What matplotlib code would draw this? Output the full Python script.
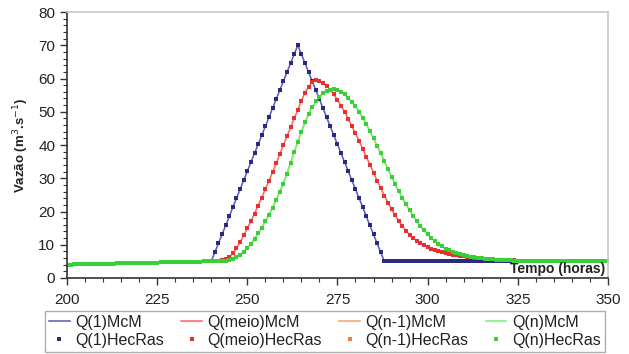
# Hidrogramas: McM x HecRas (Q em m3/s, passo horário)
import numpy as np
import matplotlib.pyplot as plt
from matplotlib.ticker import MultipleLocator

plt.rcParams['font.family'] = ['Liberation Sans', 'DejaVu Sans']

# vazão de base antes da onda (t = 200 ... 240 h)
base_ini = [4.0, 4.0,
            4.1, 4.1, 4.1, 4.1, 4.2, 4.2, 4.2, 4.2,
            4.3, 4.3, 4.3, 4.3, 4.4, 4.4, 4.4, 4.4,
            4.5, 4.5, 4.5, 4.5, 4.6, 4.6, 4.6, 4.6,
            4.7, 4.7, 4.7, 4.7, 4.8, 4.8, 4.8, 4.8,
            4.9, 4.9, 4.9, 4.9, 5.0, 5.0, 5.0]

# t = 241 ... 350 h
q1_onda = [7.7, 10.4, 13.1, 15.8, 18.5, 21.3, 24.0, 26.7, 29.4, 32.1,
           34.8, 37.5, 40.2, 42.9, 45.6, 48.3, 51.0, 53.8, 56.5, 59.2,
           61.9, 64.6, 67.3, 70.0, 67.3, 64.6, 61.9, 59.2, 56.5, 53.8,
           51.0, 48.3, 45.6, 42.9, 40.2, 37.5, 34.8, 32.1, 29.4, 26.7,
           24.0, 21.3, 18.5, 15.8, 13.1, 10.4, 7.7, 5.0, 5.0, 5.0,
           5.0, 5.0, 5.0, 5.0, 5.0, 5.0, 5.0, 5.0, 5.0, 5.0,
           5.0, 5.0, 5.0, 5.0, 5.0, 5.0, 5.0, 5.0, 5.0, 5.0,
           5.0, 5.0, 5.0, 5.0, 5.0, 5.0, 5.0, 5.0, 5.0, 5.0,
           5.0, 5.0, 5.0, 5.0, 5.0, 5.0, 5.0, 5.0, 5.0, 5.0,
           5.0, 5.0, 5.0, 5.0, 5.0, 5.0, 5.0, 5.0, 5.0, 5.0,
           5.0, 5.0, 5.0, 5.0, 5.0, 5.0, 5.0, 5.0, 5.0, 5.0]

qmeio_onda = [5.0, 5.1, 5.3, 5.7, 6.3, 7.4, 8.9, 10.8, 12.8, 14.9,
              17.1, 19.4, 21.8, 24.2, 26.7, 29.2, 31.8, 34.5, 37.2, 39.9,
              42.6, 45.3, 48.0, 50.6, 53.3, 55.7, 57.6, 58.9, 59.5, 59.3,
              58.7, 57.8, 56.6, 55.2, 53.6, 51.8, 49.9, 47.8, 45.7, 43.5,
              41.2, 38.9, 36.5, 34.1, 31.7, 29.3, 27.0, 24.8, 22.7, 20.7,
              18.8, 17.1, 15.6, 14.2, 13.0, 12.0, 11.1, 10.4, 9.8, 9.3,
              8.8, 8.4, 8.0, 7.7, 7.4, 7.2, 7.0, 6.8, 6.6, 6.5,
              6.3, 6.2, 6.1, 6.0, 5.9, 5.8, 5.7, 5.6, 5.5, 5.5,
              5.4, 5.4, 5.3, 5.3, 5.2, 5.2, 5.2, 5.1, 5.1, 5.1,
              5.0, 5.0, 5.0, 5.0, 5.0, 5.0, 5.0, 5.0, 5.0, 5.0,
              5.0, 5.0, 5.0, 5.0, 5.0, 5.0, 5.0, 5.0, 5.0, 5.0]

qn_onda = [5.0, 5.0, 5.1, 5.2, 5.4, 5.8, 6.3, 7.0, 7.9, 9.0,
           10.3, 11.8, 13.4, 15.1, 17.0, 19.0, 21.2, 23.5, 25.9, 28.4,
           31.4, 34.6, 37.8, 41.0, 44.0, 46.8, 49.3, 51.4, 53.1, 54.5,
           55.5, 56.2, 56.6, 56.7, 56.5, 56.0, 55.2, 54.2, 53.0, 51.6,
           50.0, 48.2, 46.3, 44.2, 42.0, 39.8, 37.5, 35.1, 32.7, 30.4,
           28.2, 26.1, 24.1, 22.2, 20.4, 18.7, 17.1, 15.6, 14.3, 13.1,
           12.0, 11.1, 10.2, 9.5, 8.8, 8.3, 7.8, 7.4, 7.1, 6.8,
           6.6, 6.4, 6.2, 6.0, 5.9, 5.8, 5.7, 5.6, 5.5, 5.4,
           5.4, 5.3, 5.3, 5.2, 5.2, 5.2, 5.1, 5.1, 5.1, 5.1,
           5.0, 5.0, 5.0, 5.0, 5.0, 5.0, 5.0, 5.0, 5.0, 5.0,
           5.0, 5.0, 5.0, 5.0, 5.0, 5.0, 5.0, 5.0, 5.0, 5.0]

q1 = base_ini + q1_onda
qmeio = base_ini + qmeio_onda
qn = base_ini + qn_onda
qn1 = qn  # Q(n-1) praticamente coincide com Q(n) nesta escala

tempo = np.arange(200, 200 + len(q1))

series = [
    ('Q(1)', q1, '#5a5ab8', '#2a2a80'),
    ('Q(meio)', qmeio, '#ff6060', '#e83030'),
    ('Q(n-1)', qn1, '#f5a070', '#f08040'),
    ('Q(n)', qn, '#70f070', '#38d038'),
]

fig = plt.figure(figsize=(6.29, 3.54), dpi=100)
ax = fig.add_axes([0.1065, 0.2147, 0.86, 0.7513])

handles = []
for nome, q, cor_linha, cor_marc in series:
    h1, = ax.plot(tempo, q, color=cor_linha, lw=1.1, label=nome + 'McM')
    h2, = ax.plot(tempo, q, ls='none', marker='s', ms=2.4, mew=0,
                  color=cor_marc, label=nome + 'HecRas')
    handles += [h1, h2]

ax.set_xlim(200, 350)
ax.set_ylim(0, 80)
ax.xaxis.set_major_locator(MultipleLocator(25))
ax.xaxis.set_minor_locator(MultipleLocator(5))
ax.yaxis.set_major_locator(MultipleLocator(10))
ax.yaxis.set_minor_locator(MultipleLocator(2))
ax.tick_params(which='major', length=5, width=1, color='#333333',
               labelsize=11, labelcolor='#222222')
ax.tick_params(which='minor', length=3, width=0.8, color='#333333')
ax.tick_params(axis='x', pad=6)

for lado in ['top', 'right']:
    ax.spines[lado].set_color('#c8c8c8')
    ax.spines[lado].set_linewidth(1.2)
for lado in ['left', 'bottom']:
    ax.spines[lado].set_color('#333333')
    ax.spines[lado].set_linewidth(1.2)

ax.set_ylabel(r'Vazão (m$^3$.s$^{-1}$)', fontsize=9.5, fontweight='bold',
              color='#222222', labelpad=5)
ax.text(0.995, 0.008, 'Tempo (horas)', transform=ax.transAxes, ha='right',
        va='bottom', fontsize=10, fontweight='bold', color='#222222')

leg = fig.legend(handles=handles, loc='lower left', ncol=4, mode='expand',
                 bbox_to_anchor=(0.0715, 0.006, 0.89, 0.121),
                 fontsize=11.5, frameon=True, fancybox=False,
                 handlelength=1.3, handletextpad=0.35, borderaxespad=0,
                 borderpad=0.25, labelspacing=0.2, markerscale=1.1)
leg.get_frame().set_edgecolor('#999999')
leg.get_frame().set_linewidth(1.0)
for t in leg.get_texts():
    t.set_color('#222222')

fig.savefig('out.png', dpi=100)
